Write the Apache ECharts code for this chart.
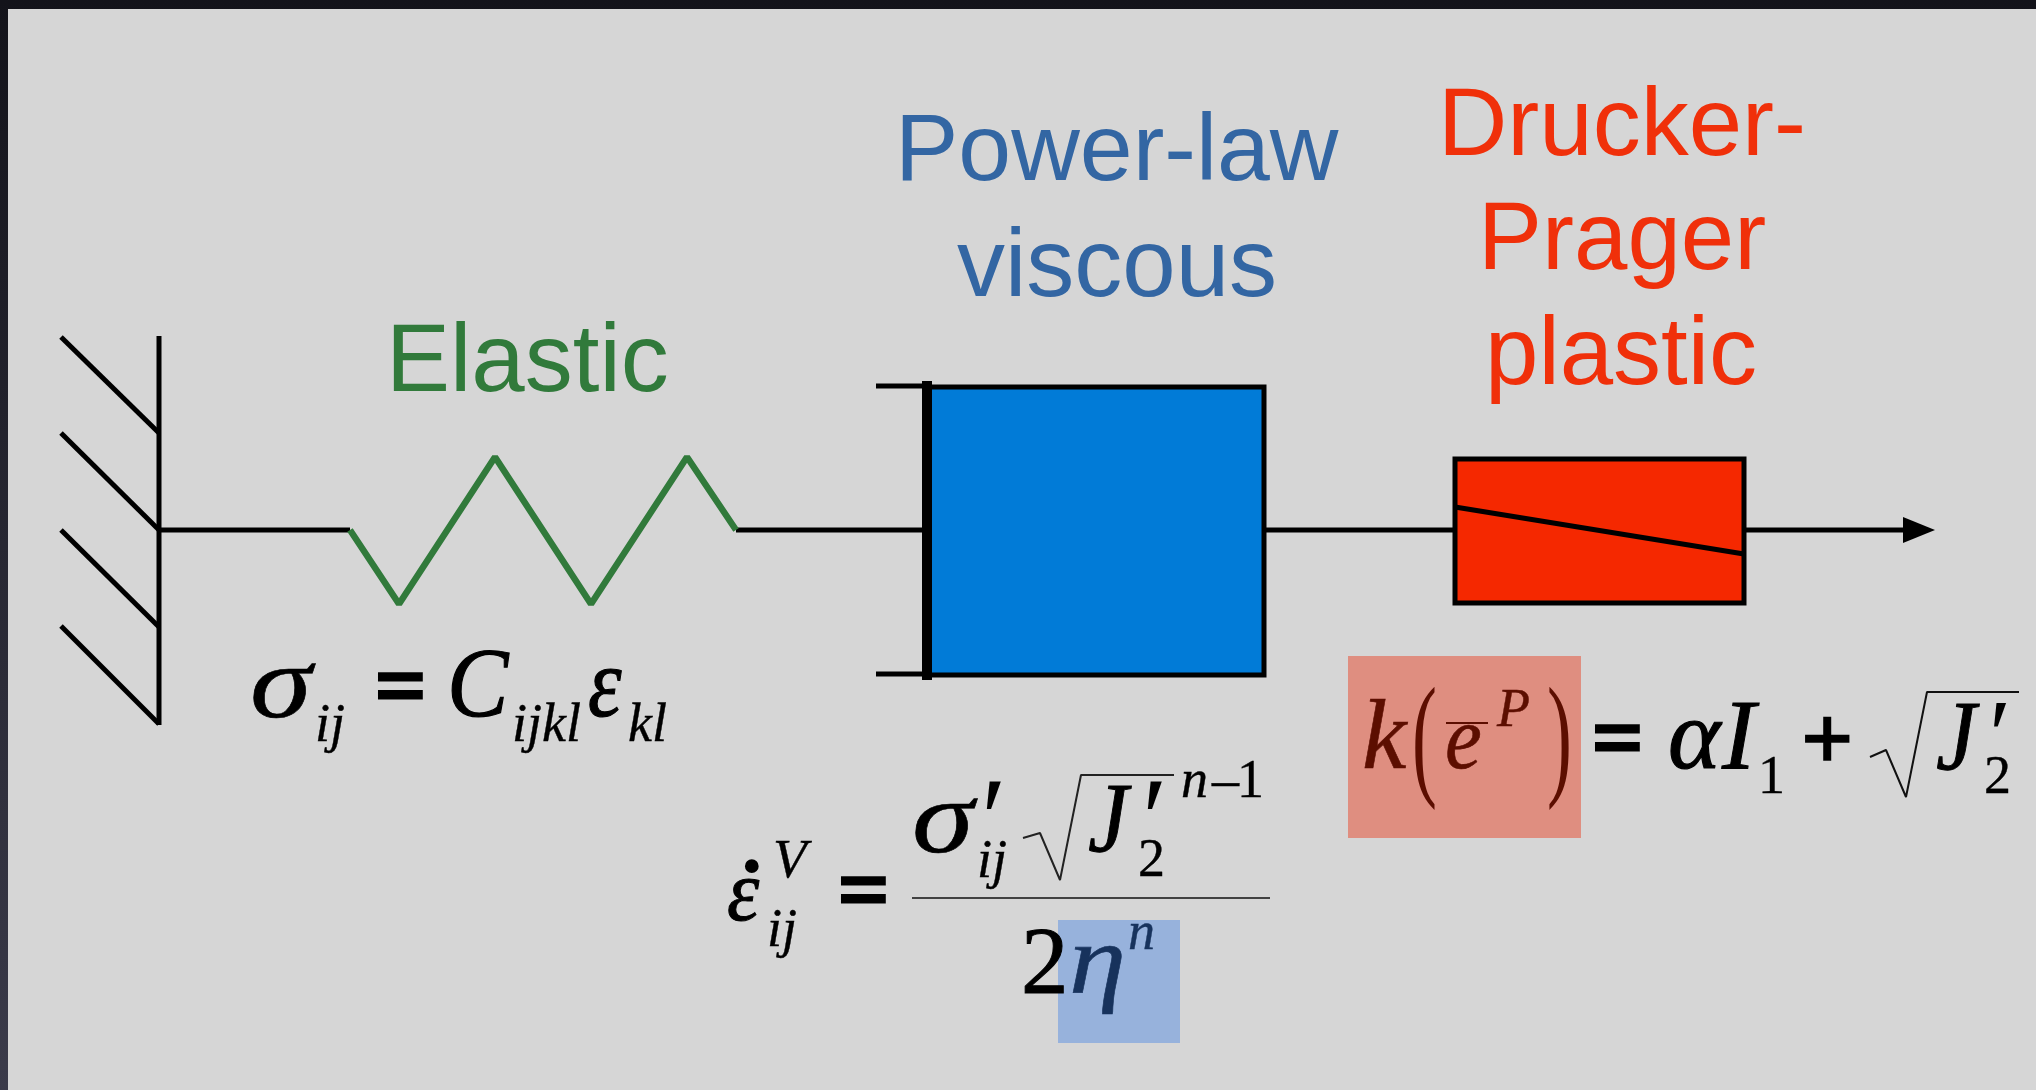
<!DOCTYPE html>
<html>
<head>
<meta charset="utf-8">
<title>Elastic, power-law viscous, Drucker-Prager plastic</title>
<style>
  html, body { margin: 0; padding: 0; background: #15151c; }
  #chart { width: 2036px; height: 1090px; }
</style>
<script src="https://cdn.jsdelivr.net/npm/echarts@6/dist/echarts.min.js"></script>
</head>
<body>
<div id="chart"></div>
<script>

// ---- rectangles: [x0, y0, x1, y1]
const panelBox = [8, 9, 2036, 1090];
const viscousBox = [927, 387, 1264, 675];
const plasticBox = [1455, 459, 1744, 603];
const etaHighlight = [1058, 920, 1180, 1043];
const kHighlight = [1348, 656, 1581, 838];

// ---- line work: [x, y] points
const wallLine = [[159, 336], [159, 725]];
const hatch1 = [[61, 337], [159, 433]];
const hatch2 = [[61, 433], [159, 530]];
const hatch3 = [[61, 530], [159, 627]];
const hatch4 = [[61, 626], [159, 724]];
const rodA = [[159, 530], [350, 530]];
const springLine = [[350, 530], [399, 604], [495, 457], [591, 604], [687, 457], [736, 530]];
const rodB = [[736, 530], [927, 530]];
const damperBar = [[927, 381], [927, 680]];
const damperTop = [[876, 386], [927, 386]];
const damperBottom = [[876, 674], [927, 674]];
const rodC = [[1264, 530], [1455, 530]];
const plasticSlope = [[1455, 507], [1744, 554]];
const rodD = [[1744, 530], [1906, 530]];
const arrowTip = [[1935, 530]];

const fracLine = [[912, 898], [1270, 898]];
const rootA = [[1023, 838], [1040, 833], [1060, 880], [1081, 775], [1174, 775]];
const rootB = [[1870, 757], [1886, 750], [1906, 797], [1927, 692], [2019, 692]];
const eBar = [[1446, 723], [1488, 723]];

// ---- headings
const headText = ["Elastic", "Power-law", "viscous", "Drucker-", "Prager", "plastic"];
const headX = [386, 895, 957, 1438, 1478, 1485];
const headBase = [392, 181, 297, 156, 270, 385];
const headSize = [96, 95, 96, 96, 96, 96];

// ---- equations, black glyphs
const eqText = ["σ", "ij", "=", "C", "ijkl", "ε", "kl",
  "ε", "˙", "V", "ij", "=", "σ", "′", "ij", "J", "′", "2", "n", "–", "1", "2",
  "=", "α", "I", "1", "+", "J", "′", "2"];
const eqX = [250, 315, 375, 447, 512, 588, 628,
  727, 730, 773, 767, 838, 912, 974, 977, 1088, 1135, 1138, 1181, 1212, 1237, 1021,
  1592, 1668, 1722, 1758, 1801, 1936, 1983, 1984];
const eqBase = [719, 742, 718, 718, 742, 718, 742,
  922, 948, 878, 947, 922, 854, 861, 878, 853, 861, 877, 798, 798, 798, 995,
  770, 770, 770, 794, 771, 771, 770, 794];
const eqSize = [104, 54, 90, 100, 54, 100, 54,
  86, 130, 55, 54, 90, 104, 116, 54, 100, 116, 54, 54, 54, 54, 95,
  90, 100, 100, 54, 92, 100, 100, 54];
const eqFace = ["i", "i", "b", "i", "i", "i", "i",
  "i", "r", "i", "i", "b", "i", "i", "i", "i", "i", "r", "i", "r", "r", "r",
  "b", "i", "i", "r", "b", "i", "i", "r"];
const eqStretch = [1.2, 1, 1, 0.92, 1, 0.85, 1,
  0.95, 1, 1, 1, 1, 1.2, 1, 1, 0.9, 1, 1, 1, 1, 1, 1,
  1, 1, 1, 1, 1, 0.9, 1, 1];
const eqWeight = [0.6, 0.4, 3, 1.2, 0.4, 1.2, 0.4,
  1, 0, 0.4, 0.4, 3, 0.6, 0, 0.4, 1, 0, 0.4, 0.4, 0.4, 0.4, 1,
  3, 1.2, 1, 0.4, 1.6, 1, 0, 0.4];

// ---- glyphs on the blue highlight
const etaText = ["η", "n"];
const etaX = [1069, 1128];
const etaBase = [995, 950];
const etaSize = [100, 54];
const etaStretch = [1.15, 1];
const etaWeight = [0.6, 0.4];

// ---- glyphs on the red highlight
const kText = ["k", "e", "P", "(", ")"];
const kX = [1362, 1445, 1497, 1412, 1547];
const kBase = [770, 770, 727, 784, 784];
const kSize = [100, 92, 54, 136, 136];
const kStretch = [1, 0.9, 1, 0.55, 0.55];
const kWeight = [0.6, 0.6, 0.4, 0, 0];

const chart = echarts.init(document.getElementById("chart"), null, { renderer: "canvas" });

function polyline(name, points, color, width, z) {
  return {
    name, type: "line", data: points, symbol: "none", z, silent: true,
    lineStyle: { color, width, cap: "butt", join: "bevel" }
  };
}

function boxSeries(name, box, fill, stroke, strokeWidth, z) {
  return {
    name, type: "custom", z, silent: true,
    data: [box],
    encode: { x: [0, 2], y: [1, 3] },
    renderItem: function (params, api) {
      const a = api.coord([api.value(0), api.value(1)]);
      const b = api.coord([api.value(2), api.value(3)]);
      return {
        type: "rect",
        shape: { x: a[0], y: a[1], width: b[0] - a[0], height: b[1] - a[1] },
        style: { fill, stroke: stroke || null, lineWidth: strokeWidth || 0 }
      };
    }
  };
}

const FACES = {
  i: "italic 400 SIZEpx 'Liberation Serif'",
  r: "400 SIZEpx 'Liberation Serif'",
  b: "700 SIZEpx 'Liberation Serif'",
  s: "400 SIZEpx 'Liberation Sans'"
};

// y in the data is the text baseline, zrender places the em middle
function textSeries(name, texts, xs, bases, sizes, faces, fill, z, stretch, weight) {
  return {
    name, type: "custom", z, silent: true,
    data: texts.map((t, i) => [xs[i], bases[i], i]),
    encode: { x: 0, y: 1 },
    renderItem: function (params, api) {
      const i = api.value(2);
      const p = api.coord([api.value(0), api.value(1)]);
      const size = sizes[i];
      const face = Array.isArray(faces) ? faces[i] : faces;
      const ink = Array.isArray(fill) ? fill[i] : fill;
      const w = weight ? weight[i] : 0;
      return {
        type: "text",
        x: p[0],
        y: p[1] - 0.285 * size,
        scaleX: stretch ? stretch[i] : 1,
        style: {
          text: texts[i],
          font: FACES[face].replace("SIZE", size),
          fill: ink,
          stroke: w ? ink : null,
          lineWidth: w,
          align: "left",
          verticalAlign: "middle"
        }
      };
    }
  };
}

const headColors = ["#317a3b", "#3366a3", "#3366a3", "#f0300a", "#f0300a", "#f0300a"];
const BLACK = "#000000";

chart.setOption({
  animation: false,
  backgroundColor: {
    type: "linear", x: 0, y: 0, x2: 0, y2: 1,
    colorStops: [{ offset: 0, color: "#13131a" }, { offset: 1, color: "#3b3b4a" }]
  },
  grid: { left: 0, right: 0, top: 0, bottom: 0, containLabel: false },
  xAxis: { type: "value", min: 0, max: 2036, show: false },
  yAxis: { type: "value", min: 0, max: 1090, inverse: true, show: false },
  series: [
    boxSeries("panel", panelBox, "#d6d6d6", null, 0, 1),

    boxSeries("eta highlight", etaHighlight, "#97b2dc", null, 0, 2),
    boxSeries("k highlight", kHighlight, "#df8e80", null, 0, 2),

    polyline("rod a", rodA, BLACK, 5, 3),
    polyline("rod b", rodB, BLACK, 5, 3),
    polyline("rod c", rodC, BLACK, 5, 3),
    polyline("rod d", rodD, BLACK, 5, 3),
    polyline("wall", wallLine, BLACK, 5, 4),
    polyline("hatch 1", hatch1, BLACK, 5, 4),
    polyline("hatch 2", hatch2, BLACK, 5, 4),
    polyline("hatch 3", hatch3, BLACK, 5, 4),
    polyline("hatch 4", hatch4, BLACK, 5, 4),
    polyline("spring", springLine, "#317a3b", 6.5, 4),

    boxSeries("viscous", viscousBox, "#017bd7", BLACK, 5, 5),
    boxSeries("plastic", plasticBox, "#f52800", BLACK, 5, 5),
    polyline("damper bar", damperBar, BLACK, 10, 6),
    polyline("damper top", damperTop, BLACK, 5, 6),
    polyline("damper bottom", damperBottom, BLACK, 5, 6),
    polyline("plastic slope", plasticSlope, BLACK, 5, 6),

    {
      name: "arrow", type: "scatter", data: arrowTip, z: 6, silent: true,
      symbol: "triangle", symbolSize: [26, 32], symbolRotate: -90, symbolOffset: [-16, 0],
      itemStyle: { color: BLACK, opacity: 1 }
    },

    polyline("fraction", fracLine, "#111111", 1.5, 7),
    polyline("root a", rootA, "#222222", 2, 7),
    polyline("root b", rootB, "#111111", 2, 7),
    polyline("e bar", eBar, "#5c0e00", 2, 7),

    textSeries("headings", headText, headX, headBase, headSize, "s", headColors, 8),
    textSeries("equations", eqText, eqX, eqBase, eqSize, eqFace, BLACK, 8, eqStretch, eqWeight),
    textSeries("eta", etaText, etaX, etaBase, etaSize, "i", "#17325c", 8, etaStretch, etaWeight),
    textSeries("k", kText, kX, kBase, kSize, ["i", "i", "i", "r", "r"], "#5c0e00", 8, kStretch, kWeight)
  ]
});
</script>
</body>
</html>
